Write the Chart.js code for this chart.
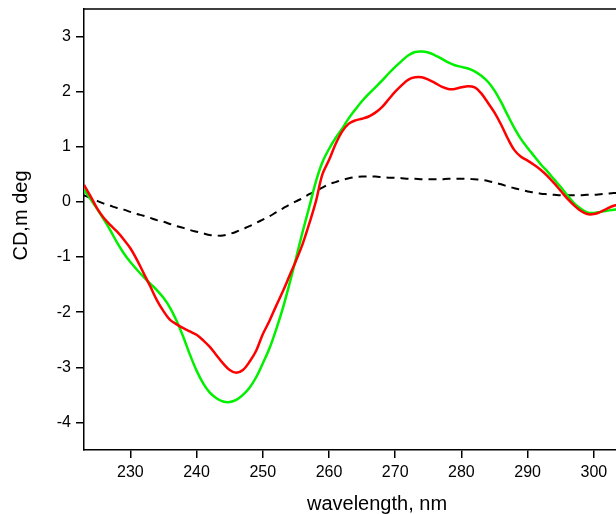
<!DOCTYPE html>
<html>
<head>
<meta charset="utf-8">
<script src="https://cdn.jsdelivr.net/npm/chart.js@4.4.1/dist/chart.umd.min.js"></script>
<style>
    html, body { margin: 0; padding: 0; background: #fff; }
    /* the reference figure is cropped on the right and bottom */
    .crop { width: 616px; height: 514px; overflow: hidden; }
    .wrap { width: 680px; height: 516px; }
</style>
</head>
<body>
<div class="crop"><div class="wrap"><canvas id="cdChart"></canvas></div></div>
<script>
// wavelength grid, nm
const wavelength = [
    223, 224, 225, 226, 227, 228, 229, 230, 231, 232, 233, 234, 235, 236, 237, 238, 239, 240, 241, 242,
    243, 244, 245, 246, 247, 248, 249, 250, 251, 252, 253, 254, 255, 256, 257, 258, 259, 260, 261, 262,
    263, 264, 265, 266, 267, 268, 269, 270, 271, 272, 273, 274, 275, 276, 277, 278, 279, 280, 281, 282,
    283, 284, 285, 286, 287, 288, 289, 290, 291, 292, 293, 294, 295, 296, 297, 298, 299, 300, 301, 302,
    303, 304,
];

// CD, m deg
const cdRed = [
    0.31, 0.10, -0.12, -0.29, -0.42, -0.54, -0.68, -0.84, -1.05, -1.29, -1.53, -1.78, -1.98, -2.14, -2.22, -2.29, -2.35, -2.41, -2.51, -2.63,
    -2.78, -2.93, -3.05, -3.10, -3.05, -2.90, -2.70, -2.40, -2.16, -1.89, -1.63, -1.35, -1.07, -0.77, -0.40, 0.00, 0.50, 0.76, 1.05, 1.28,
    1.42, 1.48, 1.51, 1.55, 1.62, 1.72, 1.86, 2.00, 2.12, 2.22, 2.26, 2.26, 2.22, 2.16, 2.09, 2.05, 2.05, 2.08, 2.10, 2.08,
    1.97, 1.80, 1.62, 1.40, 1.15, 0.94, 0.82, 0.75, 0.67, 0.58, 0.47, 0.34, 0.20, 0.06, -0.06, -0.16, -0.22, -0.22, -0.18, -0.12,
    -0.07, -0.04,
];
const cdGreen = [
    0.22, 0.05, -0.13, -0.32, -0.52, -0.74, -0.93, -1.09, -1.23, -1.36, -1.48, -1.60, -1.74, -1.92, -2.16, -2.45, -2.77, -3.06, -3.29, -3.46,
    -3.56, -3.62, -3.63, -3.59, -3.50, -3.37, -3.18, -2.93, -2.66, -2.32, -1.94, -1.50, -1.03, -0.55, -0.10, 0.36, 0.72, 0.96, 1.16, 1.33,
    1.52, 1.68, 1.83, 1.96, 2.08, 2.20, 2.33, 2.45, 2.56, 2.66, 2.72, 2.73, 2.71, 2.66, 2.60, 2.53, 2.48, 2.45, 2.42, 2.37,
    2.29, 2.18, 2.02, 1.81, 1.57, 1.34, 1.14, 0.98, 0.83, 0.68, 0.55, 0.41, 0.27, 0.12, -0.02, -0.12, -0.19, -0.20, -0.18, -0.16,
    -0.14, -0.13,
];
const cdDashed = [
    0.12, 0.07, 0.02, -0.03, -0.07, -0.11, -0.14, -0.18, -0.22, -0.25, -0.29, -0.33, -0.36, -0.40, -0.44, -0.47, -0.51, -0.54, -0.57, -0.60,
    -0.61, -0.61, -0.58, -0.54, -0.49, -0.44, -0.38, -0.32, -0.26, -0.19, -0.12, -0.05, 0.01, 0.07, 0.14, 0.20, 0.26, 0.32, 0.36, 0.40,
    0.43, 0.45, 0.46, 0.46, 0.46, 0.45, 0.44, 0.44, 0.43, 0.42, 0.42, 0.41, 0.41, 0.41, 0.41, 0.42, 0.42, 0.42, 0.42, 0.41,
    0.40, 0.38, 0.35, 0.32, 0.28, 0.25, 0.22, 0.19, 0.17, 0.15, 0.14, 0.13, 0.12, 0.12, 0.12, 0.12, 0.13, 0.13, 0.14, 0.15,
    0.16, 0.16,
];

const xTicks = [230, 240, 250, 260, 270, 280, 290, 300];
const yTicks = [-4, -3, -2, -1, 0, 1, 2, 3];
const yTitle = 'CD,m deg';

const toPoints = (ys) => ys.map((y, i) => ({ x: wavelength[i], y }));

const fontFamily = '"Liberation Sans", Arial, Helvetica, sans-serif';
const axisFont = { family: fontFamily, size: 16 };
const titleFont = { family: fontFamily, size: 20 };

// top / right frame lines + y title (sits a little above the axis centre in the original)
const framePlugin = {
    id: 'frame',
    afterDraw(chart) {
        const { ctx, chartArea: a } = chart;
        ctx.save();
        ctx.strokeStyle = '#000';
        ctx.lineWidth = 1.5;
        ctx.beginPath();
        ctx.moveTo(a.left, a.top);
        ctx.lineTo(a.right, a.top);
        ctx.lineTo(a.right, a.bottom);
        ctx.stroke();

        ctx.translate(21, (a.top + a.bottom) / 2 - 14);
        ctx.rotate(-Math.PI / 2);
        ctx.fillStyle = '#000';
        ctx.font = '20px ' + fontFamily;
        ctx.textAlign = 'center';
        ctx.textBaseline = 'middle';
        ctx.fillText(yTitle, 0, 0);
        ctx.restore();
    },
};

const noEdgePadding = (s) => {
    s.paddingTop = 0;
    s.paddingBottom = 0;
    s.paddingLeft = 0;
    s.paddingRight = 0;
};

new Chart(document.getElementById('cdChart'), {
    type: 'line',
    data: {
        datasets: [
            {
                label: 'red',
                data: toPoints(cdRed),
                borderColor: '#ff0000',
                borderWidth: 2.5,
                pointRadius: 0,
                tension: 0.35,
            },
            {
                label: 'green',
                data: toPoints(cdGreen),
                borderColor: '#00f000',
                borderWidth: 2.5,
                pointRadius: 0,
                tension: 0.35,
            },
            {
                label: 'dashed',
                data: toPoints(cdDashed),
                borderColor: '#000',
                borderWidth: 2,
                borderDash: [8, 6],
                pointRadius: 0,
                tension: 0.35,
            },
        ],
    },
    options: {
        responsive: true,
        maintainAspectRatio: false,
        animation: false,
        devicePixelRatio: 1,
        layout: { padding: { top: 9, right: 10, left: 0, bottom: 0 } },
        plugins: { legend: { display: false }, tooltip: { enabled: false } },
        scales: {
            x: {
                type: 'linear',
                min: 223,
                max: 311.5,
                afterFit: (s) => { s.height = 66; noEdgePadding(s); },
                afterBuildTicks: (s) => { s.ticks = xTicks.map((v) => ({ value: v })); },
                border: { color: '#000', width: 1.5 },
                grid: { drawOnChartArea: false, drawTicks: true, tickLength: 8, color: '#000', lineWidth: 1.5 },
                ticks: { color: '#000', font: axisFont, padding: 5, maxRotation: 0 },
                title: { display: true, text: 'wavelength, nm', color: '#000', font: titleFont, padding: { top: 9, bottom: 0 } },
            },
            y: {
                min: -4.5,
                max: 3.5,
                afterFit: (s) => { s.width = 84; noEdgePadding(s); },
                afterBuildTicks: (s) => { s.ticks = yTicks.map((v) => ({ value: v })); },
                border: { color: '#000', width: 1.5 },
                grid: { drawOnChartArea: false, drawTicks: true, tickLength: 8, color: '#000', lineWidth: 1.5 },
                ticks: { color: '#000', font: axisFont, padding: 5 },
            },
        },
    },
    plugins: [framePlugin],
});
</script>
</body>
</html>
